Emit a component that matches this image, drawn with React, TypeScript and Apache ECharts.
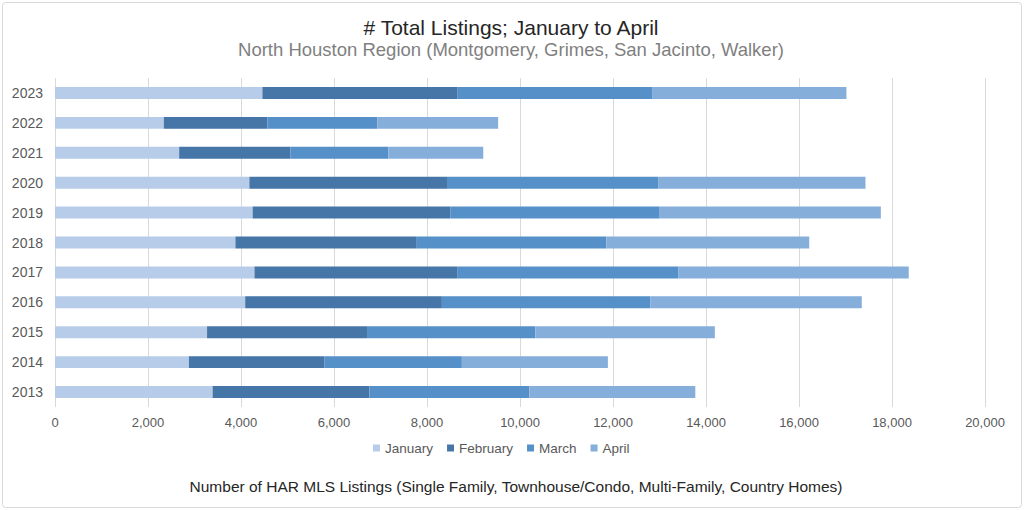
import React, { useEffect, useRef } from "react";
import * as echarts from "echarts";

const years = ["2013", "2014", "2015", "2016", "2017", "2018", "2019", "2020", "2021", "2022", "2023"];
const january = [3390, 2880, 3270, 4090, 4290, 3880, 4250, 4180, 2670, 2340, 4460];
const february = [3370, 2910, 3440, 4230, 4370, 3900, 4250, 4250, 2390, 2230, 4200];
const march = [3440, 2960, 3620, 4480, 4750, 4080, 4490, 4540, 2110, 2360, 4180];
const april = [3570, 3140, 3860, 4550, 4950, 4360, 4770, 4460, 2040, 2600, 4180];
const seriesNames = ["January", "February", "March", "April"];
const seriesColors = ["#B7CCE8", "#4676A7", "#5591C8", "#86AEDB"];

const FONT = "Liberation Sans, Arial, sans-serif";

export default function App() {
  const ref = useRef<HTMLDivElement>(null);
  useEffect(() => {
    if (!ref.current) return;
    const chart = echarts.init(ref.current, undefined, { renderer: "svg" });
    const data = [january, february, march, april];
    chart.setOption({
      animation: false,
      backgroundColor: "#ffffff",
      textStyle: { fontFamily: FONT },
      graphic: [
        {
          type: "rect",
          shape: { x: 2.5, y: 2.5, width: 1019, height: 505, r: 3 },
          style: { fill: "none", stroke: "#d9d9d9", lineWidth: 1 },
          silent: true,
        },
        {
          type: "text",
          x: 511,
          y: 27,
          style: {
            text: "# Total Listings; January to April",
            fontSize: 21,
            fill: "#262626",
            fontFamily: FONT,
            align: "center",
            verticalAlign: "middle",
          },
        },
        {
          type: "text",
          x: 511,
          y: 49,
          style: {
            text: "North Houston Region (Montgomery, Grimes, San Jacinto, Walker)",
            fontSize: 18.5,
            fill: "#7f7f7f",
            fontFamily: FONT,
            align: "center",
            verticalAlign: "middle",
          },
        },
        {
          type: "text",
          x: 516,
          y: 486,
          style: {
            text: "Number of HAR MLS Listings (Single Family, Townhouse/Condo, Multi-Family, Country Homes)",
            fontSize: 15.5,
            fill: "#262626",
            fontFamily: FONT,
            align: "center",
            verticalAlign: "middle",
          },
        },
      ],
      legend: {
        data: seriesNames,
        top: 436,
        left: 368,
        icon: "rect",
        itemWidth: 7,
        itemHeight: 7,
        itemGap: 14,
        textStyle: { fontSize: 13.5, color: "#595959", fontFamily: FONT },
      },
      grid: { left: 55, right: 39, top: 78, bottom: 103, containLabel: false },
      xAxis: {
        type: "value",
        min: 0,
        max: 20000,
        interval: 2000,
        axisLine: { show: false },
        axisTick: { show: false },
        splitLine: { lineStyle: { color: "#d9d9d9", width: 1 } },
        axisLabel: {
          fontSize: 13,
          color: "#595959",
          margin: 9,
          formatter: (v: number) => v.toLocaleString("en-US"),
        },
      },
      yAxis: {
        type: "category",
        data: years,
        axisLine: { show: false },
        axisTick: { show: false },
        axisLabel: { fontSize: 14, color: "#595959", margin: 12 },
      },
      series: seriesNames.map((name, i) => ({
        name,
        type: "bar",
        stack: "total",
        barWidth: "40%",
        data: data[i],
        itemStyle: { color: seriesColors[i] },
      })),
    });
    return () => chart.dispose();
  }, []);
  return <div ref={ref} style={{ position: "fixed", left: 0, top: 0, width: 1024, height: 510 }} />;
}
